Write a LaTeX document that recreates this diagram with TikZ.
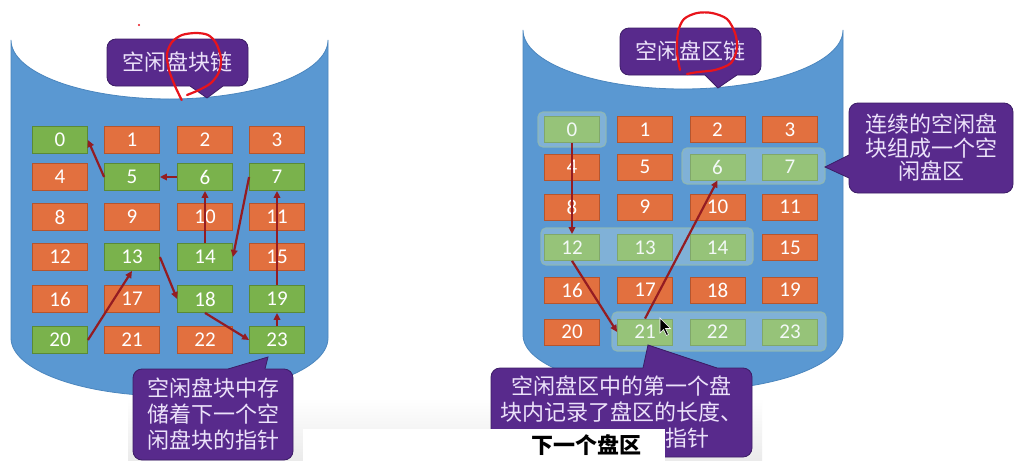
\documentclass[tikz,border=0pt]{standalone}
\usepackage{fontspec}
\newfontfamily\cjk{Noto Sans CJK SC}
\newfontfamily\numf{Carlito}
\usetikzlibrary{arrows.meta,calc}
\definecolor{cylblue}{HTML}{5A98D2}
\definecolor{cylline}{HTML}{4B86BE}
\definecolor{boxor}{HTML}{E2703F}
\definecolor{boxorb}{HTML}{B5552E}
\definecolor{boxgr}{HTML}{7AB24C}
\definecolor{boxgrb}{HTML}{5A8A36}
\definecolor{grpfill}{HTML}{D8ECE4}
\definecolor{grpline}{HTML}{8FB8B4}
\definecolor{arrowred}{HTML}{941C22}
\definecolor{calpurple}{HTML}{582A8C}
\definecolor{calborder}{HTML}{3C1C66}
\definecolor{caltext}{HTML}{ECE2FA}
\definecolor{handred}{HTML}{E8141B}
\begin{document}
\begin{tikzpicture}[x=1pt,y=-1pt,
  blk/.style={minimum width=55pt, minimum height=27pt, inner sep=0pt, font=\numf\fontsize{21}{21}\selectfont, text=white, line width=0.8pt},
  ob/.style={blk, fill=boxor, draw=boxorb},
  gb/.style={blk, fill=boxgr, draw=boxgrb},
  ptr/.style={draw=arrowred, line width=2.2pt, -{Triangle[length=7pt,width=6.5pt]}},
  callout/.style={fill=calpurple, draw=calborder, line width=0.8pt, rounded corners=9pt, text=caltext, font=\cjk\fontsize{22}{26}\selectfont, align=center, inner sep=0pt},
  ptrfill/.style={fill=calpurple},
  ptredge/.style={draw=calborder, line width=0.8pt},
  grp/.style={fill=grpfill, fill opacity=0.3, draw=grpline, draw opacity=0.9, line width=1.2pt, rounded corners=5pt},
  hand/.style={draw=handred, line width=2.2pt, line cap=round, line join=round},
  cyl/.style={fill=cylblue, draw=cylline, line width=0.8pt}
]
\useasboundingbox (0,0) rectangle (1019,471);
\fill[white] (0,0) rectangle (1019,471);
% background band of the slide
\shade[top color=white, bottom color=gray!16] (128,398) rectangle (762,460);
% cylinders
\path[cyl] (11,40) -- (11,338) arc[start angle=180, end angle=360, x radius=158.5pt, y radius=58pt]
  -- (328,40) arc[start angle=0, end angle=-180, x radius=158.5pt, y radius=59pt] -- cycle;
\path[cyl] (523,30) -- (523,335) arc[start angle=180, end angle=360, x radius=160pt, y radius=56pt]
  -- (843,30) arc[start angle=0, end angle=-180, x radius=160pt, y radius=59pt] -- cycle;
% left grid
\foreach \i/\s in {0/gb,1/ob,2/ob,3/ob,4/ob,5/gb,6/gb,7/gb,8/ob,9/ob,10/ob,11/ob,12/ob,13/gb,14/gb,15/ob,16/ob,17/ob,18/gb,19/gb,20/gb,21/ob,22/ob,23/gb}{
  \pgfmathtruncatemacro\c{mod(\i,4)}
  \pgfmathtruncatemacro\r{div(\i,4)}
  \pgfmathsetmacro\xx{{60,132,205,277}[\c]}
  \pgfmathsetmacro\yy{{140,177,217,257,299,340}[\r]}
  \node[\s] (L\i) at (\xx,\yy) {\i};
}
% right grid
\foreach \i/\s in {0/gb,1/ob,2/ob,3/ob,4/ob,5/ob,6/gb,7/gb,8/ob,9/ob,10/ob,11/ob,12/gb,13/gb,14/gb,15/ob,16/ob,17/ob,18/ob,19/ob,20/ob,21/gb,22/gb,23/gb}{
  \pgfmathtruncatemacro\c{mod(\i,4)}
  \pgfmathtruncatemacro\r{div(\i,4)}
  \pgfmathsetmacro\xx{{572,645,717.5,790}[\c]}
  \pgfmathsetmacro\yy{{129.5,167,207,247.5,290,332}[\r]}
  \node[\s, minimum height=26pt] (R\i) at (\xx,\yy) {\i};
}
% groups of free blocks (right)
\path[grp] (538,112) rectangle (606,147);
\path[grp] (682,148) rectangle (825,184);
\path[grp] (541,228) rectangle (753,265);
\path[grp] (612,312) rectangle (826,351);
% left chain
\draw[ptr] (L5.west) -- (L0.east);
\draw[ptr] (L6.west) -- (L5.east);
\draw[ptr] (L14.north) -- (L6.south);
\draw[ptr] (L7.west) -- (L14.east);
\draw[ptr] (L19.north) -- (L7.south);
\draw[ptr] (L23.north) -- (L19.south);
\draw[ptr] (L18.south) -- (L23.west);
\draw[ptr] (L13.east) -- (L18.west);
\draw[ptr] (L20.east) -- (L13.south);
% right chain
\draw[ptr] (R0.south) -- (R12.north);
\draw[ptr] (R12.south) -- (R21.west);
\draw[ptr] (R21.north) -- (R6.south);
% callouts
\node[callout, minimum width=141pt, minimum height=47pt] (c1) at (177.5,62.5) {空闲盘块链};
\path[ptrfill] (190,84) -- (190,86) -- (207,98) -- (223,86) -- (223,84) -- cycle;
\draw[ptredge] (190,86) -- (207,98) -- (223,86);
\node[callout, minimum width=141pt, minimum height=47pt] (c2) at (690.5,51.5) {空闲盘区链};
\path[ptrfill] (705,73) -- (705,75) -- (718,88) -- (737,75) -- (737,73) -- cycle;
\draw[ptredge] (705,75) -- (718,88) -- (737,75);
\node[callout, minimum width=164pt, minimum height=90pt, font=\cjk\fontsize{22}{23.5}\selectfont] (c3) at (931,148) {连续的空闲盘\\块组成一个空\\闲盘区};
\path[ptrfill] (851,155) -- (849,155) -- (825,167) -- (849,178) -- (851,178) -- cycle;
\draw[ptredge] (849,155) -- (825,167) -- (849,178);
\node[callout, minimum width=160pt, minimum height=91pt] (c4) at (213,414.5) {空闲盘块中存\\储着下一个空\\闲盘块的指针};
\path[ptrfill] (228,371) -- (228,369) -- (268,357) -- (265,369) -- (265,371) -- cycle;
\draw[ptredge] (228,369) -- (268,357) -- (265,369);
\node[callout, minimum width=261pt, minimum height=89pt] (c5) at (621.5,412.5) {空闲盘区中的第一个盘\\块内记录了盘区的长度、\\\phantom{下一个盘区的}指针};
\path[ptrfill] (643,370) -- (643,368) -- (648,345) -- (717,368) -- (717,370) -- cycle;
\draw[ptredge] (643,368) -- (648,345) -- (717,368);
% white label patch
\fill[white] (303,429) rectangle (665,471);
\node[font=\cjk\bfseries\fontsize{22}{22}\selectfont, text=black] (nx) at (586,445) {下一个盘区};
% hand-drawn red marks
\draw[hand] plot[smooth] coordinates {(181.7,100) (175,86) (169,70) (167,54) (172,42) (182,35) (196,33) (208,35) (216,43) (221,58) (219,72) (211,83) (199,90) (187,95)};
\draw[hand] plot[smooth] coordinates {(680,70) (677,52) (678,32) (684,19) (697,13) (712,13) (727,19) (735,33) (737,48) (731,63) (715,70) (698,72) (687,74)};
\fill[handred] (139,25) circle[radius=1.2pt];
% mouse cursor
\path[fill=black, draw=white, line width=0.6pt] (660,318) -- (660,333) -- (663.5,329.5) -- (666.5,335.5) -- (668.5,334.5) -- (665.5,328.5) -- (670.5,328.5) -- cycle;
\end{tikzpicture}
\end{document}
